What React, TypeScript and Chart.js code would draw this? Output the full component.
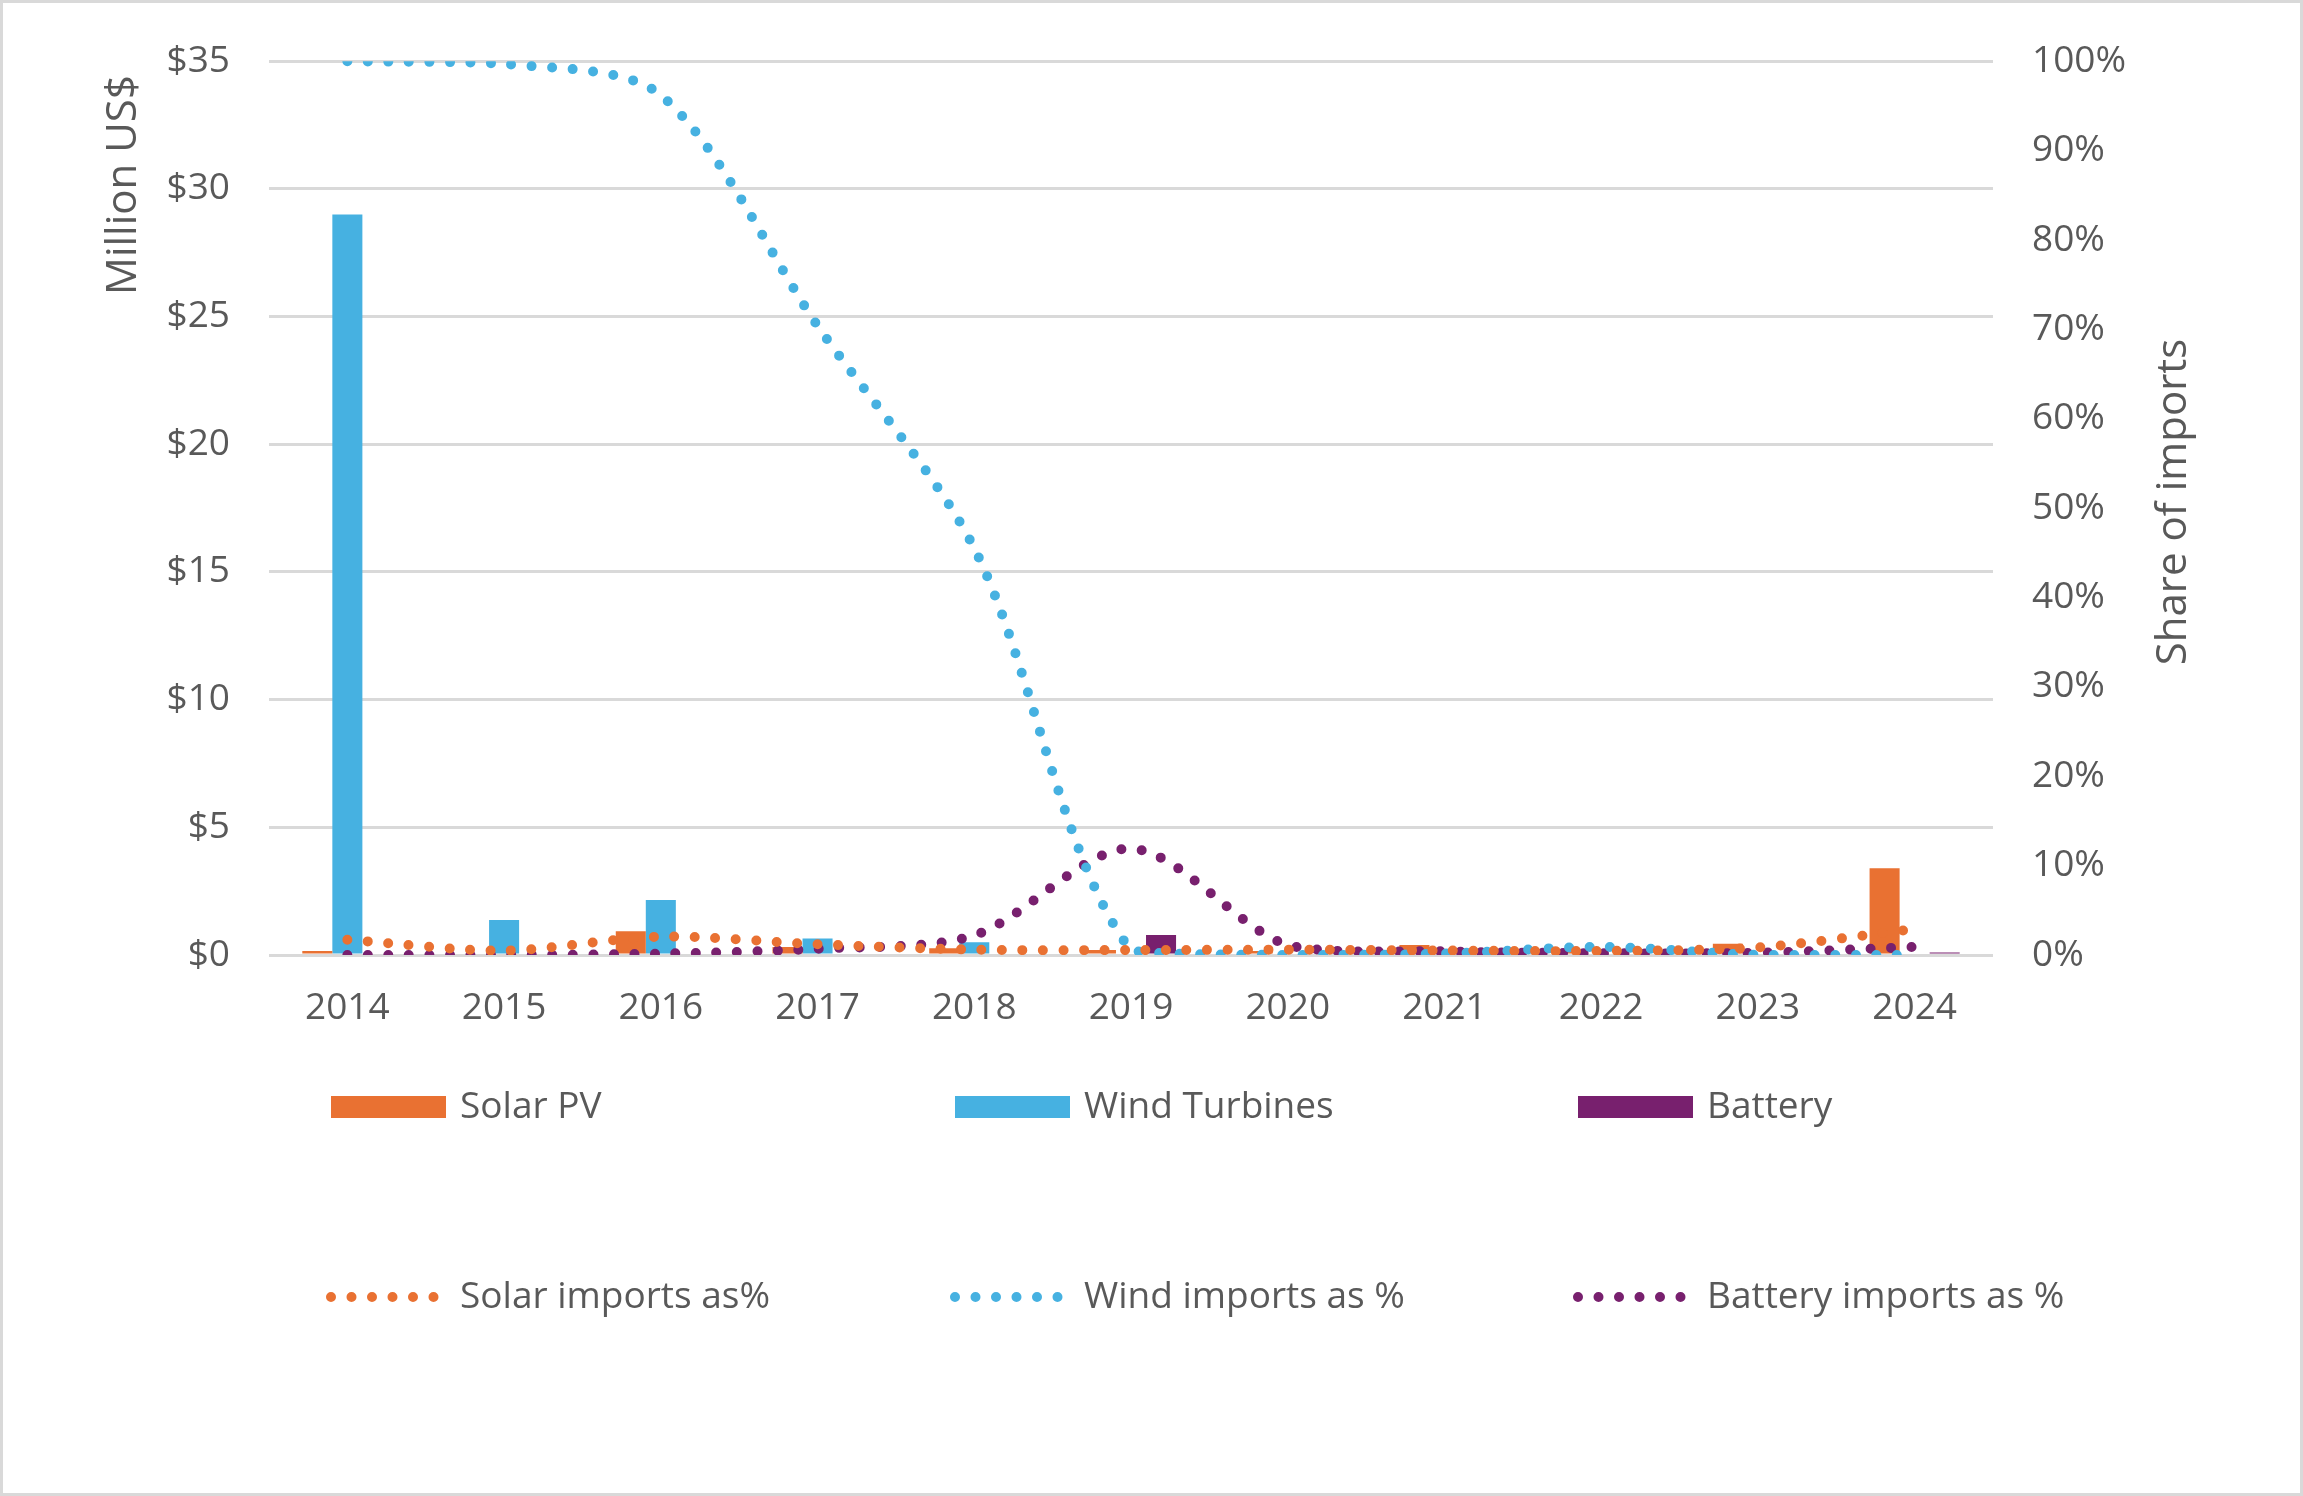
import { useEffect, useRef } from "react";
import { Chart, registerables } from "chart.js";

Chart.register(...registerables);

const years = ["2014", "2015", "2016", "2017", "2018", "2019", "2020", "2021", "2022", "2023", "2024"];

// Million US$
const solarPv = [0.16, 0, 0.93, 0.31, 0.26, 0.2, 0.16, 0.39, 0.2, 0.44, 3.4];
const windTurbines = [29, 1.37, 2.15, 0.65, 0.5, 0, 0, 0, 0, 0, 0];
const battery = [0, 0, 0, 0, 0, 0.78, 0, 0, 0, 0, 0.1];

// share of imports, %
const solarShare = [1.7, 0.5, 2.05, 1.2, 0.6, 0.55, 0.6, 0.5, 0.45, 0.85, 2.9];
const windShare = [100, 99.7, 96.2, 70.4, 45.5, 0.5, 0, 0.15, 0.9, 0, 0];
const batteryShare = [0, 0, 0.15, 0.7, 2.2, 11.9, 1.1, 0.4, 0.2, 0.25, 0.9];

const W = 2303;
const H = 1496;
const ORANGE = "#E97132";
const BLUE = "#46B1E1";
const PURPLE = "#78206E";
const TEXT = "#595959";
const GRID = "#D9D9D9";
const FONT = '"Open Sans", "Liberation Sans", Arial, sans-serif';
const DOTS = [0, 20.5];

const decor = {
  id: "decor",
  afterDraw(chart: Chart) {
    const ctx = chart.ctx;
    ctx.save();
    // frame
    ctx.strokeStyle = GRID;
    ctx.lineWidth = 3;
    ctx.strokeRect(1.5, 1.5, W - 3, H - 3);

    // axis titles
    ctx.fillStyle = TEXT;
    ctx.font = `42px ${FONT}`;
    ctx.textAlign = "center";
    ctx.textBaseline = "middle";
    ctx.save();
    ctx.translate(124, 185);
    ctx.rotate(-Math.PI / 2);
    ctx.fillText("Million US$", 0, 0);
    ctx.restore();
    ctx.save();
    ctx.translate(2174, 502);
    ctx.rotate(-Math.PI / 2);
    ctx.fillText("Share of imports", 0, 0);
    ctx.restore();

    // legend, two rows of three
    const cols = [331, 955, 1578];
    const rows = [1107, 1297];
    ctx.font = `37px ${FONT}`;
    ctx.textAlign = "left";
    chart.data.datasets.forEach((ds: any, i: number) => {
      const col = cols[i % 3];
      const y = rows[Math.floor(i / 3)];
      if (ds.type === "bar") {
        ctx.fillStyle = ds.backgroundColor;
        ctx.fillRect(col, y - 11, 115, 22);
      } else {
        ctx.save();
        ctx.strokeStyle = ds.borderColor;
        ctx.lineWidth = 10;
        ctx.lineCap = "round";
        ctx.setLineDash(DOTS);
        ctx.beginPath();
        ctx.moveTo(col, y);
        ctx.lineTo(col + 104, y);
        ctx.stroke();
        ctx.restore();
      }
      ctx.fillStyle = TEXT;
      ctx.fillText(ds.label, col + 129, y);
    });
    ctx.restore();
  },
};

function lineSet(label: string, data: number[], color: string) {
  return {
    type: "line" as const,
    label,
    data,
    yAxisID: "y1",
    borderColor: color,
    backgroundColor: color,
    borderWidth: 10,
    borderDash: DOTS,
    borderCapStyle: "round" as const,
    pointRadius: 0,
    tension: 0.3,
    order: 0,
  };
}

function barSet(label: string, data: number[], color: string) {
  return {
    type: "bar" as const,
    label,
    data,
    yAxisID: "y",
    backgroundColor: color,
    categoryPercentage: 0.575,
    barPercentage: 1,
    order: 1,
  };
}

export default function App() {
  const canvasRef = useRef<HTMLCanvasElement>(null);
  const chartRef = useRef<Chart | null>(null);

  useEffect(() => {
    if (!canvasRef.current) return;
    Chart.defaults.font.family = FONT;
    Chart.defaults.color = TEXT;

    chartRef.current?.destroy();
    chartRef.current = new Chart(canvasRef.current, {
      type: "bar",
      data: {
        labels: years,
        datasets: [
          barSet("Solar PV", solarPv, ORANGE),
          barSet("Wind Turbines", windTurbines, BLUE),
          barSet("Battery", battery, PURPLE),
          lineSet("Solar imports as%", solarShare, ORANGE),
          lineSet("Wind imports as %", windShare, BLUE),
          lineSet("Battery imports as %", batteryShare, PURPLE),
        ] as any,
      },
      options: {
        responsive: false,
        animation: false,
        devicePixelRatio: 1,
        layout: { padding: { top: 59, left: 0, right: 0, bottom: 0 } },
        plugins: { legend: { display: false }, tooltip: { enabled: false } },
        scales: {
          x: {
            grid: { display: false, drawTicks: false },
            border: { display: false },
            ticks: { color: TEXT, font: { size: 37 }, padding: 31 },
            afterFit: (s: any) => {
              s.height = H - 955;
            },
          },
          y: {
            position: "left",
            min: 0,
            max: 35,
            grid: { color: GRID, lineWidth: 3, drawTicks: false },
            border: { display: false },
            ticks: {
              stepSize: 5,
              color: TEXT,
              font: { size: 37 },
              padding: 39,
              callback: (v: any) => "$" + v,
            },
            afterFit: (s: any) => {
              s.width = 269;
            },
          },
          y1: {
            position: "right",
            min: 0,
            max: 100,
            grid: { display: false, drawTicks: false },
            border: { display: false },
            ticks: {
              stepSize: 10,
              color: TEXT,
              font: { size: 37 },
              padding: 39,
              callback: (v: any) => v + "%",
            },
            afterFit: (s: any) => {
              s.width = W - 1993;
            },
          },
        },
      },
      plugins: [decor],
    });

    return () => {
      chartRef.current?.destroy();
      chartRef.current = null;
    };
  }, []);

  return (
    <div style={{ position: "absolute", left: 0, top: 0, width: W, height: H, background: "#fff" }}>
      <canvas ref={canvasRef} width={W} height={H} style={{ display: "block" }} />
    </div>
  );
}
